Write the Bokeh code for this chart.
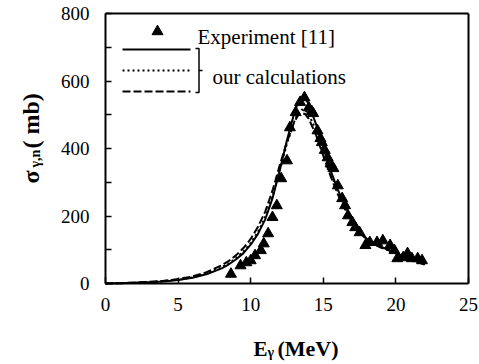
import math
from bokeh.plotting import figure
from bokeh.models import Label, Range1d, FixedTicker, LinearAxis
from bokeh.embed import file_html
from bokeh.resources import INLINE

# ---- data ----
exp_E = [8.64, 9.3, 9.7, 10.0, 10.3, 10.7, 10.9, 11.2, 11.5, 11.8, 12.1, 12.5, 12.7,
         13.1, 13.4, 13.7, 14.0, 14.2, 14.3, 14.6, 14.8, 14.9, 15.1, 15.3, 15.5, 15.7,
         16.0, 16.3, 16.5, 16.7, 17.0, 17.2, 17.5, 17.9, 18.2, 18.7, 19.1, 19.6, 19.9,
         20.1, 20.5, 20.8, 21.1, 21.5, 21.8]
exp_sigma = [28, 53, 62, 68, 83, 98, 118, 148, 196, 231, 311, 364, 462,
             507, 537, 551, 521, 510, 504, 453, 430, 418, 395, 373, 355, 341,
             290, 252, 231, 201, 181, 166, 151, 113, 122, 122, 127, 113, 98,
             74, 77, 89, 74, 74, 68]

E_calc = [0, 1, 2, 3, 4, 5, 6, 7, 8, 8.5, 9, 9.5, 10, 10.5, 11, 11.5, 12, 12.5, 13,
          13.25, 13.5, 13.75, 14, 14.5, 15, 15.5, 16, 16.5, 17, 17.5, 18, 18.5, 19,
          19.5, 20, 20.5, 21, 21.5, 22]
calc_solid = [0, 1, 2, 4, 6, 10, 17, 28, 45, 57, 72, 90, 115, 147, 190, 252, 335, 425, 505,
              535, 550, 550, 530, 472, 402, 335, 278, 230, 188, 155, 132, 118, 108,
              100, 90, 81, 73, 65, 58]
calc_dotted = [0, 1, 2, 4, 7, 11, 18, 30, 48, 60, 76, 95, 120, 153, 197, 258, 335, 415, 480,
               505, 515, 515, 500, 455, 392, 328, 272, 225, 185, 153, 131, 117, 107,
               99, 89, 80, 72, 64, 57]
calc_dashed = [0, 1, 3, 5, 8, 13, 21, 34, 54, 67, 84, 105, 132, 168, 213, 275, 350, 420, 478,
               497, 505, 502, 488, 440, 378, 318, 264, 220, 182, 151, 130, 116, 106,
               98, 88, 79, 71, 63, 56]

x_ticks = [0, 5, 10, 15, 20, 25]
y_ticks = [0, 200, 400, 600, 800]
y_minor = [100, 300, 500, 700]
X_MIN, X_MAX = 0, 25
Y_MIN, Y_MAX = 0, 800

FONT = "Liberation Serif"

# layout: the frame fills the canvas; axes sit at fixed data locations
W, H = 479, 364
PX0, PX1 = 105, 468      # pixel columns of E=0 and E=25
PY0, PY1 = 283, 13       # pixel rows of sigma=0 and sigma=800
sx = (X_MAX - X_MIN) / (PX1 - PX0)
sy = (Y_MAX - Y_MIN) / (PY0 - PY1)

def fx(px):
    return X_MIN + (px - PX0) * sx

def fy(py):
    return Y_MIN + (PY0 - py) * sy

p = figure(width=W, height=H, output_backend="svg", toolbar_location=None,
           x_range=Range1d(fx(0), fx(W)), y_range=Range1d(fy(H), fy(0)),
           min_border=0, min_border_left=0, min_border_right=0,
           min_border_top=0, min_border_bottom=0)
p.grid.visible = False
p.outline_line_color = None
p.background_fill_color = "white"
p.border_fill_color = "white"

xa = p.xaxis[0]
ya = p.yaxis[0]
xa.fixed_location = Y_MIN
ya.fixed_location = X_MIN
xa.bounds = (X_MIN, X_MAX)
ya.bounds = (Y_MIN, Y_MAX)
for ax in (xa, ya):
    ax.axis_line_width = 2
    ax.major_tick_in = 6
    ax.major_tick_out = 0
    ax.minor_tick_in = 6
    ax.minor_tick_out = 0
    ax.major_tick_line_width = 1.5
    ax.minor_tick_line_width = 1.5
    ax.major_label_text_font = FONT
    ax.major_label_text_font_size = "19px"
    ax.major_label_text_color = "black"
xa.ticker = FixedTicker(ticks=x_ticks, minor_ticks=[])
ya.ticker = FixedTicker(ticks=y_ticks, minor_ticks=y_minor)
xa.major_label_standoff = 14
ya.major_label_standoff = 16

# top and right border axes
top = LinearAxis(fixed_location=Y_MAX, bounds=(X_MIN, X_MAX), ticker=FixedTicker(ticks=[]),
                 axis_line_width=2, major_tick_in=0, major_tick_out=0,
                 minor_tick_in=0, minor_tick_out=0, major_label_text_font_size="0px")
right = LinearAxis(fixed_location=X_MAX, bounds=(Y_MIN, Y_MAX), ticker=FixedTicker(ticks=[]),
                   axis_line_width=2, major_tick_in=0, major_tick_out=0,
                   minor_tick_in=0, minor_tick_out=0, major_label_text_font_size="0px")
p.add_layout(top, "above")
p.add_layout(right, "right")

# curves
p.line(E_calc, calc_solid, line_color="black", line_width=2)
p.line(E_calc, calc_dotted, line_color="black", line_width=2, line_dash="2 3")
p.line(E_calc, calc_dashed, line_color="black", line_width=2, line_dash="8 3")
p.scatter(exp_E, exp_sigma, marker="triangle", size=11, fill_color="black", line_color="black")

def lab(x, y, text, size, bold=False, angle=0.0):
    return Label(x=x, y=y, text=text, text_font=FONT, text_color="black",
                 text_font_style="bold" if bold else "normal",
                 text_font_size=size, text_baseline="alphabetic", text_align="left",
                 angle=angle)

# legend
p.scatter([fx(157)], [fy(31)], marker="triangle", size=11, fill_color="black", line_color="black")
p.add_layout(lab(fx(197), fy(36.5), "Experiment [11]", "21px"))
p.line([fx(122), fx(190)], [fy(49), fy(49)], line_color="black", line_width=2)
p.line([fx(122), fx(190)], [fy(70), fy(70)], line_color="black", line_width=2, line_dash="2 3")
p.line([fx(122), fx(190)], [fy(91), fy(91)], line_color="black", line_width=2, line_dash="8 3")
p.line([fx(195), fx(198.5), fx(198.5), fx(195)], [fy(48), fy(48), fy(92), fy(92)],
       line_color="black", line_width=1.5)
p.line([fx(198.5), fx(202)], [fy(70), fy(70)], line_color="black", line_width=1.5)
p.add_layout(lab(fx(212), fy(76), "our calculations", "21px"))

# x axis title
p.add_layout(lab(fx(253), fy(348), "E", "21px", bold=True))
p.add_layout(lab(fx(267), fy(352), "γ", "14px", bold=True))
p.add_layout(lab(fx(277), fy(348), "(MeV)", "22px", bold=True))

# y axis title (rotated)
rot = math.pi / 2
p.add_layout(lab(fx(30), fy(183), "σ", "24px", bold=True, angle=rot))
p.add_layout(lab(fx(35), fy(167), "γ,n", "14px", bold=True, angle=rot))
p.add_layout(lab(fx(30), fy(148), "( mb)", "24px", bold=True, angle=rot))

open("out.html", "w").write(file_html(p, INLINE))
